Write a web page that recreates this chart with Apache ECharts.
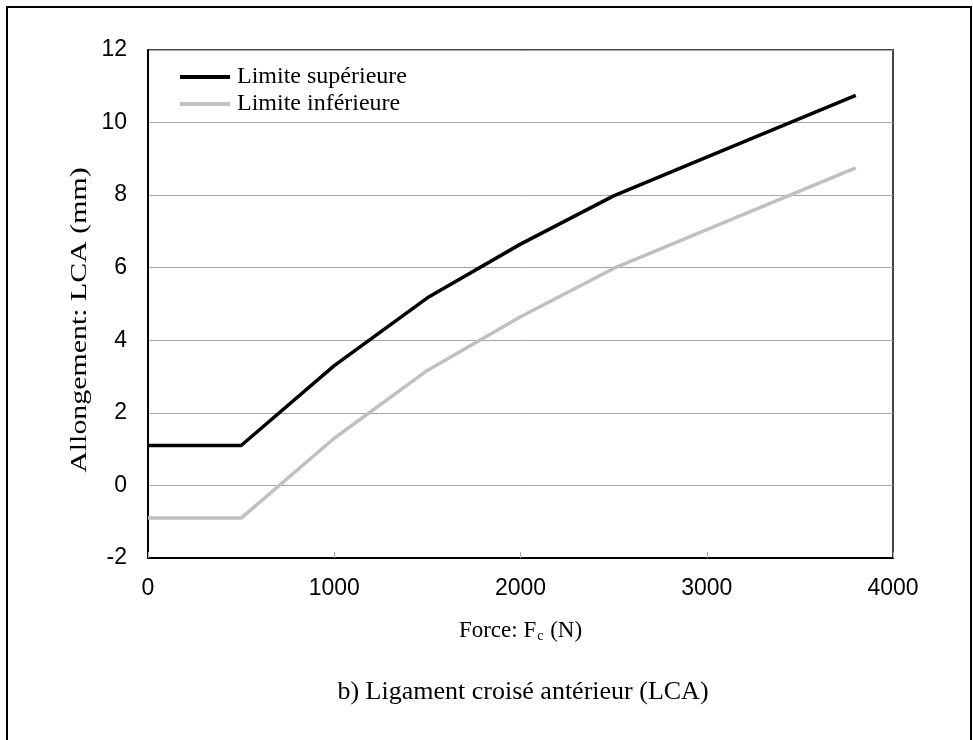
<!DOCTYPE html>
<html>
<head>
<meta charset="utf-8">
<script src="https://cdn.jsdelivr.net/npm/echarts@6/dist/echarts.min.js"></script>
<style>
  html, body { margin: 0; padding: 0; background: #fff; }
  #chart { width: 973px; height: 740px; }
</style>
</head>
<body>
<div id="chart"></div>
<script>
// Force applied to the ligament (N)
var forces = [0, 500, 1000, 1500, 2000, 2500, 3000, 3800];
// Elongation bounds (mm)
var upperLimit = [1.1, 1.1, 3.3, 5.17, 6.65, 7.98, 9.05, 10.75];
var lowerLimit = [-0.9, -0.9, 1.3, 3.17, 4.65, 5.98, 7.05, 8.75];
var seriesNames = ['Limite supérieure', 'Limite inférieure'];
var xTicks = [0, 1000, 2000, 3000, 4000];
var yTicks = [-2, 0, 2, 4, 6, 8, 10, 12];

function pairs(xs, ys) {
  return xs.map(function (x, i) { return [x, ys[i]]; });
}

var SANS = '"Liberation Sans", Arial, sans-serif';
var SERIF = '"Liberation Serif", "Times New Roman", serif';

var chart = echarts.init(document.getElementById('chart'), null, { renderer: 'canvas' });

chart.setOption({
  backgroundColor: '#fff',
  animation: false,
  grid: {
    left: 148, right: 80, top: 50, bottom: 182,
    show: true,
    borderColor: '#444',
    borderWidth: 2,
    containLabel: false
  },
  legend: {
    orient: 'vertical',
    left: 175, top: 60,
    itemWidth: 50, itemHeight: 4,
    itemGap: 3,
    icon: 'rect',
    textStyle: { fontFamily: SERIF, fontSize: 24, color: '#000', padding: [0, 0, 0, 2] },
    data: seriesNames
  },
  xAxis: {
    type: 'value',
    min: xTicks[0], max: xTicks[xTicks.length - 1], interval: 1000,
    axisLine: { onZero: false, lineStyle: { color: '#000', width: 2 } },
    axisTick: { show: true, inside: true, length: 6, lineStyle: { color: '#aaa' } },
    splitLine: { show: false },
    axisLabel: {
      margin: 19, fontFamily: SANS, fontSize: 23, color: '#000',
      formatter: function (v) { return String(v); }
    },
    name: '{t|Force: F}{s|c}{t| (N)}',
    nameLocation: 'middle',
    nameGap: 61,
    nameTextStyle: {
      rich: {
        t: { fontFamily: SERIF, fontSize: 23, color: '#000' },
        s: { fontFamily: SERIF, fontSize: 14, color: '#000', padding: [10, 1, 0, 1] }
      }
    }
  },
  yAxis: {
    type: 'value',
    min: yTicks[0], max: yTicks[yTicks.length - 1], interval: 2,
    axisLine: { show: true, onZero: false, lineStyle: { color: '#000', width: 2 } },
    axisTick: { show: false },
    splitLine: { show: true, lineStyle: { color: '#a6a6a6', width: 1 } },
    axisLabel: { margin: 21, fontFamily: SANS, fontSize: 23, color: '#000' }
  },
  graphic: [
    {
      type: 'rect',
      shape: { x: 7, y: 7, width: 964, height: 800 },
      style: { fill: 'none', stroke: '#000', lineWidth: 2 },
      silent: true, z: 100
    },
    {
      type: 'text',
      x: 80, y: 320,
      rotation: Math.PI / 2,
      scaleX: 1.3,
      style: {
        text: 'Allongement: LCA (mm)',
        fontFamily: SERIF, fontSize: 23, fill: '#000',
        align: 'center', verticalAlign: 'middle'
      }
    },
    {
      type: 'text',
      x: 523, y: 692,
      style: {
        text: 'b) Ligament croisé antérieur (LCA)',
        fontFamily: SERIF, fontSize: 26, fill: '#000',
        align: 'center', verticalAlign: 'middle'
      }
    }
  ],
  series: [
    {
      name: seriesNames[0],
      type: 'line',
      data: pairs(forces, upperLimit),
      showSymbol: false,
      lineStyle: { color: '#000', width: 3.5 },
      itemStyle: { color: '#000' },
      z: 3
    },
    {
      name: seriesNames[1],
      type: 'line',
      data: pairs(forces, lowerLimit),
      showSymbol: false,
      lineStyle: { color: '#c0c0c0', width: 3.5 },
      itemStyle: { color: '#c0c0c0' },
      z: 2
    }
  ]
});
</script>
</body>
</html>
